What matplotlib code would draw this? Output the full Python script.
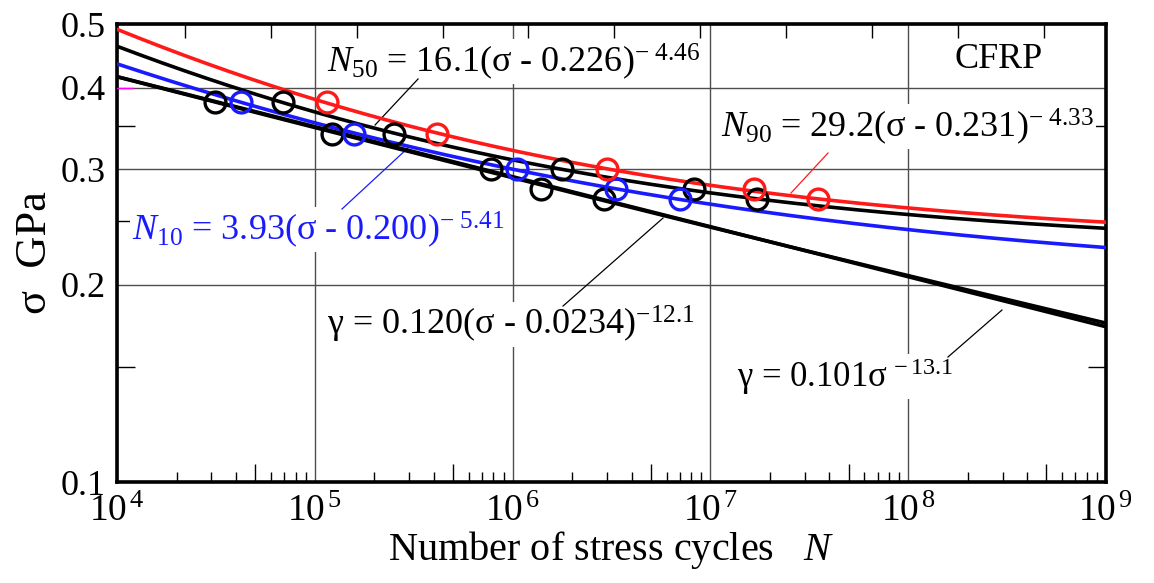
import matplotlib
matplotlib.use("Agg")

import matplotlib.pyplot as plt
import matplotlib.transforms as mtransforms
import numpy as np
from matplotlib.ticker import FixedLocator, FuncFormatter, NullFormatter, NullLocator

# ============================================================
# Data
# ============================================================

# stress levels (GPa)
black_sigma = [0.38, 0.38, 0.34, 0.34, 0.30, 0.30, 0.28, 0.28, 0.27, 0.27]
black_N = [3.13e4, 6.9e4, 1.22e5, 2.51e5, 7.8e5, 1.78e6, 1.39e6, 8.3e6, 2.9e6, 1.72e7]

blue_sigma = [0.38, 0.34, 0.30, 0.28, 0.27]
blue_N = [4.24e4, 1.58e5, 1.05e6, 3.33e6, 7.0e6]

red_sigma = [0.38, 0.34, 0.30, 0.28, 0.27]
red_N = [1.15e5, 4.15e5, 3.0e6, 1.66e7, 3.5e7]

# fitted curves  N = a (sigma - s0)^(-m)
fit_n90 = (29.2, 0.231, 4.33)
fit_n50 = (16.1, 0.226, 4.46)
fit_n10 = (3.93, 0.200, 5.41)
fit_g1 = (0.120, 0.0234, 12.1)
fit_g2 = (0.101, 0.0, 13.1)

x_decades = [1e4, 1e5, 1e6, 1e7, 1e8, 1e9]
y_major = [0.1, 0.2, 0.3, 0.4, 0.5]
y_minor = [0.15, 0.25, 0.35]

# ============================================================
# Style
# ============================================================

plt.rcParams["font.family"] = ["Liberation Serif", "DejaVu Serif"]
plt.rcParams["mathtext.fontset"] = "custom"
plt.rcParams["mathtext.rm"] = "Liberation Serif"
plt.rcParams["mathtext.it"] = "Liberation Serif:italic"
plt.rcParams["mathtext.bf"] = "Liberation Serif:bold"

RED = "#ff1a1a"
BLUE = "#1a1aff"


def sigma_of_N(N, fit):
    a, s0, m = fit
    return s0 + (N / a) ** (-1.0 / m)


fig = plt.figure(figsize=(11.54, 5.83), dpi=100)
ax = fig.add_axes([0.1014, 0.1732, 0.857, 0.7856])

ax.set_xscale("log")
ax.set_yscale("log")
ax.set_xlim(1e4, 1e9)
ax.set_ylim(0.1, 0.5)

N = np.logspace(4, 9, 400)

ax.plot(N, sigma_of_N(N, fit_n90), color=RED, lw=2.6, zorder=4)
ax.plot(N, sigma_of_N(N, fit_n50), color="black", lw=2.6, zorder=4)
ax.plot(N, sigma_of_N(N, fit_n10), color=BLUE, lw=2.6, zorder=4)
ax.plot(N, sigma_of_N(N, fit_g1), color="black", lw=2.6, zorder=4)
ax.plot(N, sigma_of_N(N, fit_g2), color="black", lw=2.6, zorder=4)

mk = dict(marker="o", ls="none", ms=15, mfc="none", mew=2.4, zorder=5)
ax.plot(black_N, black_sigma, mec="black", **mk)
ax.plot(blue_N, blue_sigma, mec=BLUE, **mk)
ax.plot(red_N, red_sigma, mec=RED, **mk)

# ---- axes, ticks, grid ----
for sp in ax.spines.values():
    sp.set_linewidth(2.6)

ax.xaxis.set_major_locator(FixedLocator(x_decades))
ax.xaxis.set_major_formatter(
    FuncFormatter(lambda v, p: r"$10^{\,%d}$" % int(round(np.log10(v))))
)
minor_x = [m * d for d in x_decades[:-1] for m in range(2, 10)]
ax.xaxis.set_minor_locator(FixedLocator(minor_x))
ax.xaxis.set_minor_formatter(NullFormatter())

ax.yaxis.set_major_locator(FixedLocator(y_major))
ax.yaxis.set_major_formatter(FuncFormatter(lambda v, p: f"{v:.1f}"))
ax.yaxis.set_minor_locator(FixedLocator(y_minor))
ax.yaxis.set_minor_formatter(NullFormatter())

ax.tick_params(which="major", length=0, labelsize=26, pad=8)
ax.tick_params(axis="x", which="major", labelsize=27, pad=9)
ax.tick_params(which="minor", direction="in", length=7, width=1.0)
ax.tick_params(axis="y", which="minor", length=13, right=True)

# the 5 x 10^n ticks are longer
for loc, tick in zip(minor_x, ax.xaxis.get_minor_ticks(len(minor_x))):
    if round(loc / 10 ** np.floor(np.log10(loc))) == 5:
        tick.tick1line.set_markersize(13)

ax.grid(True, which="major", color="#4d4d4d", lw=1.0, zorder=0.5)

# natural-log ticks on the top edge
ax_top = ax.twiny()
ax_top.set_xscale("log")
ax_top.set_xlim(ax.get_xlim())
ax_top.xaxis.set_major_locator(FixedLocator(np.exp(np.arange(10, 21))))
ax_top.xaxis.set_minor_locator(NullLocator())
ax_top.xaxis.set_major_formatter(NullFormatter())
ax_top.tick_params(axis="x", direction="in", length=10, width=1.0)
for sp in ax_top.spines.values():
    sp.set_visible(False)

# small magenta mark at 0.4 on the left
tr = mtransforms.blended_transform_factory(ax.transAxes, ax.transData)
ax.plot([0, 0.016], [0.4, 0.4], color="magenta", lw=1.0, transform=tr, zorder=3)

ax.set_xlabel(r"Number of stress cycles   $\mathit{N}$", fontsize=29, labelpad=0)
ax.set_ylabel("σ  GPa", fontsize=32, labelpad=4)

# ---- annotations ----
box = dict(facecolor="white", edgecolor="none", pad=1.5)

ax.text(0.2123, 0.895, r"$\mathit{N}_{50}$ = 16.1(σ - 0.226$)^{-\ 4.46}$",
        transform=ax.transAxes, fontsize=26, va="baseline", ha="left",
        bbox=box, zorder=3)
ax.text(0.6107, 0.7533, r"$\mathit{N}_{90}$ = 29.2(σ - 0.231$)^{-\ 4.33}$",
        transform=ax.transAxes, fontsize=26, va="baseline", ha="left",
        bbox=box, zorder=3)
ax.text(0.8473, 0.904, "CFRP", transform=ax.transAxes, fontsize=26,
        va="baseline", ha="left", zorder=3)
ax.text(0.0152, 0.5284, r"$\mathit{N}_{10}$ = 3.93(σ - 0.200$)^{-\ 5.41}$",
        transform=ax.transAxes, fontsize=26, va="baseline", ha="left",
        color=BLUE, bbox=box, zorder=3)
ax.text(0.2123, 0.321, r"γ = 0.120(σ - 0.0234$)^{-12.1}$",
        transform=ax.transAxes, fontsize=26, va="baseline", ha="left",
        bbox=box, zorder=3)
ax.text(0.6269, 0.2074, r"γ = 0.101$\mathrm{σ}^{\,-13.1}$",
        transform=ax.transAxes, fontsize=25, va="baseline", ha="left",
        bbox=box, zorder=3)

# leader lines
leaders = [
    ((0.3044, 0.880), (0.2609, 0.7795), "black"),
    ((0.7189, 0.7183), (0.6815, 0.631), RED),
    ((0.2275, 0.5961), (0.2963, 0.7336), BLUE),
    ((0.4510, 0.3843), (0.5521, 0.5764), "black"),
    ((0.8402, 0.2729), (0.8948, 0.3755), "black"),
]
for (x0, y0), (x1, y1), c in leaders:
    ax.plot([x0, x1], [y0, y1], color=c, lw=0.9, transform=ax.transAxes, zorder=3)

fig.savefig("out.png", dpi=100)
